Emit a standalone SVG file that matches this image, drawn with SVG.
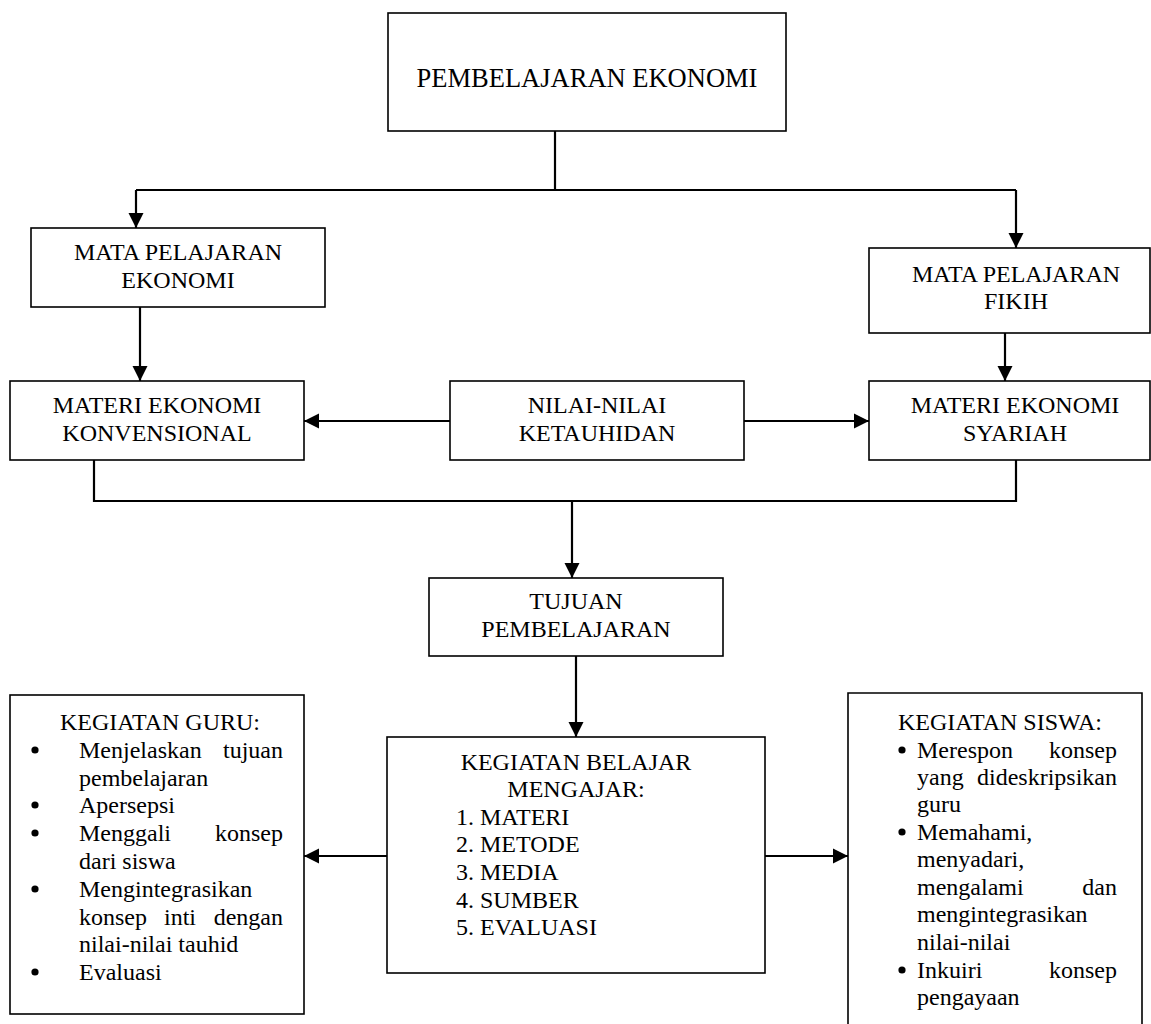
<svg xmlns="http://www.w3.org/2000/svg" width="1151" height="1024" viewBox="0 0 1151 1024">
<defs>
<style>
.box{fill:#fff;stroke:#000;stroke-width:1.6}
.c{fill:none;stroke:#000;stroke-width:2.2}
text{font-family:"Liberation Serif","Times New Roman",serif;font-size:24px;fill:#000}
.m{text-anchor:middle}
.e{text-anchor:end}
.b{fill:#000}
</style>
<marker id="ah" markerUnits="userSpaceOnUse" markerWidth="16" markerHeight="16" viewBox="0 0 16 16" refX="15" refY="8" orient="auto">
<path d="M0,0.5 L15,8 L0,15.5 z" fill="#000"/>
</marker>
</defs>
<rect width="1151" height="1024" fill="#fff"/>

<g id="connectors">
<path class="c" d="M555,131 V190"/>
<path class="c" d="M136,190 H1016"/>
<path class="c" d="M136,190 V228" marker-end="url(#ah)"/>
<path class="c" d="M1016,190 V248" marker-end="url(#ah)"/>
<path class="c" d="M140,307 V381" marker-end="url(#ah)"/>
<path class="c" d="M1005,333 V381" marker-end="url(#ah)"/>
<path class="c" d="M450,421 H304" marker-end="url(#ah)"/>
<path class="c" d="M744,421 H869" marker-end="url(#ah)"/>
<path class="c" d="M94,460 V501 H1016 V460"/>
<path class="c" d="M572,501 V578" marker-end="url(#ah)"/>
<path class="c" d="M576,656 V737" marker-end="url(#ah)"/>
<path class="c" d="M387,856 H304" marker-end="url(#ah)"/>
<path class="c" d="M765,856 H848" marker-end="url(#ah)"/>
</g>

<g id="pembelajaran-ekonomi">
<rect class="box" x="388" y="13" width="398" height="118"/>
<text class="m" x="587" y="87" style="font-size:26.5px">PEMBELAJARAN EKONOMI</text>
</g>

<g id="mata-pelajaran-ekonomi">
<rect class="box" x="31" y="228" width="294" height="79"/>
<text class="m" x="178" y="260">MATA PELAJARAN</text>
<text class="m" x="178" y="288">EKONOMI</text>
</g>

<g id="mata-pelajaran-fikih">
<rect class="box" x="869" y="248" width="281" height="85"/>
<text class="m" x="1016" y="282">MATA PELAJARAN</text>
<text class="m" x="1016" y="309">FIKIH</text>
</g>

<g id="materi-konvensional">
<rect class="box" x="10" y="381" width="294" height="79"/>
<text class="m" x="157" y="413">MATERI EKONOMI</text>
<text class="m" x="157" y="441">KONVENSIONAL</text>
</g>

<g id="nilai-ketauhidan">
<rect class="box" x="450" y="381" width="294" height="79"/>
<text class="m" x="597" y="413">NILAI-NILAI</text>
<text class="m" x="597" y="441">KETAUHIDAN</text>
</g>

<g id="materi-syariah">
<rect class="box" x="869" y="381" width="281" height="79"/>
<text class="m" x="1015" y="413">MATERI EKONOMI</text>
<text class="m" x="1015" y="441">SYARIAH</text>
</g>

<g id="tujuan-pembelajaran">
<rect class="box" x="429" y="578" width="294" height="78"/>
<text class="m" x="576" y="609">TUJUAN</text>
<text class="m" x="576" y="637">PEMBELAJARAN</text>
</g>

<g id="kegiatan-belajar-mengajar">
<rect class="box" x="387" y="737" width="378" height="236"/>
<text class="m" x="576" y="770">KEGIATAN BELAJAR</text>
<text class="m" x="576" y="797">MENGAJAR:</text>
<text x="456" y="825">1. MATERI</text>
<text x="456" y="852">2. METODE</text>
<text x="456" y="880">3. MEDIA</text>
<text x="456" y="908">4. SUMBER</text>
<text x="456" y="935">5. EVALUASI</text>
</g>

<g id="kegiatan-guru">
<rect class="box" x="10" y="695" width="294" height="319"/>
<text class="m" x="160" y="730">KEGIATAN GURU:</text>
<circle class="b" cx="35" cy="750" r="3.6"/>
<text x="79" y="758">Menjelaskan</text><text class="e" x="283" y="758">tujuan</text>
<text x="79" y="786">pembelajaran</text>
<circle class="b" cx="35" cy="805" r="3.6"/>
<text x="79" y="813">Apersepsi</text>
<circle class="b" cx="35" cy="833" r="3.6"/>
<text x="79" y="841">Menggali</text><text class="e" x="283" y="841">konsep</text>
<text x="79" y="869">dari siswa</text>
<circle class="b" cx="35" cy="889" r="3.6"/>
<text x="79" y="897">Mengintegrasikan</text>
<text x="79" y="925">konsep</text><text x="164" y="925">inti</text><text class="e" x="283" y="925">dengan</text>
<text x="79" y="952">nilai-nilai tauhid</text>
<circle class="b" cx="35" cy="972" r="3.6"/>
<text x="79" y="980">Evaluasi</text>
</g>

<g id="kegiatan-siswa">
<path class="box" d="M848,1030 V693 H1142 V1030"/>
<text class="m" x="1000" y="730">KEGIATAN SISWA:</text>
<circle class="b" cx="902" cy="750" r="3.6"/>
<text x="917" y="758">Merespon</text><text class="e" x="1117" y="758">konsep</text>
<text x="917" y="785">yang</text><text class="e" x="1117" y="785">dideskripsikan</text>
<text x="917" y="812">guru</text>
<circle class="b" cx="902" cy="832" r="3.6"/>
<text x="917" y="840">Memahami,</text>
<text x="917" y="867">menyadari,</text>
<text x="917" y="895">mengalami</text><text class="e" x="1117" y="895">dan</text>
<text x="917" y="922">mengintegrasikan</text>
<text x="917" y="950">nilai-nilai</text>
<circle class="b" cx="902" cy="970" r="3.6"/>
<text x="917" y="978">Inkuiri</text><text class="e" x="1117" y="978">konsep</text>
<text x="917" y="1005">pengayaan</text>
</g>
</svg>
